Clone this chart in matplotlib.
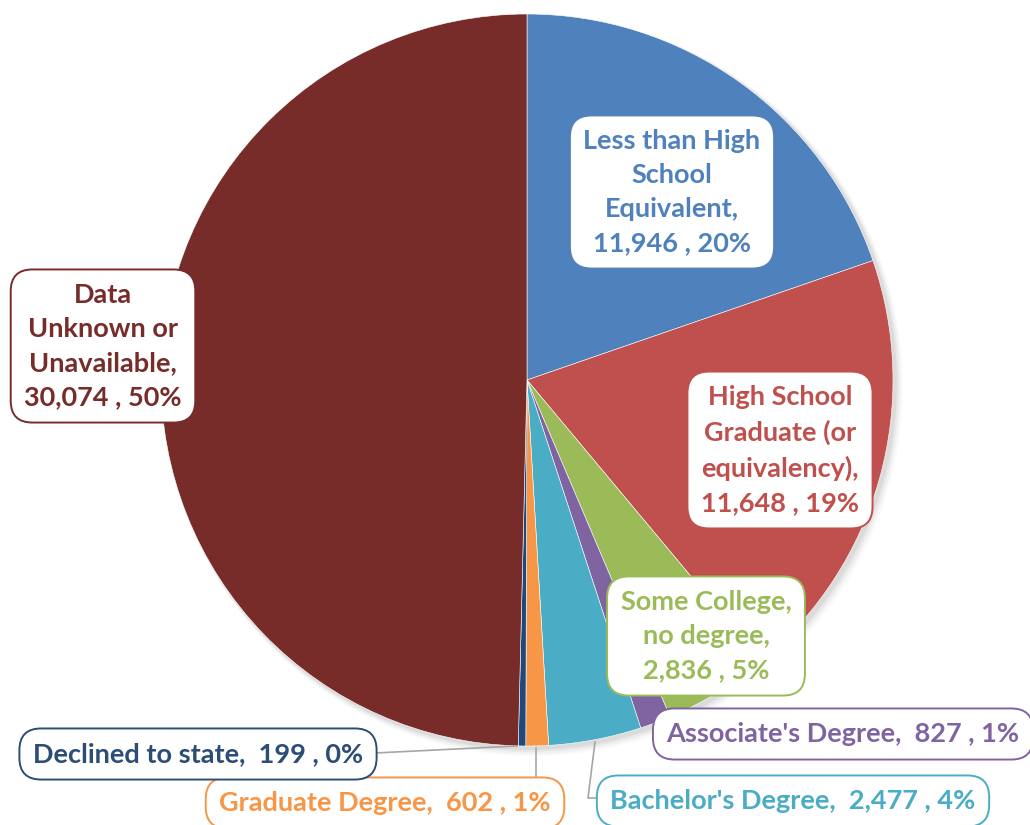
import matplotlib.pyplot as plt
from matplotlib.patches import Circle

plt.rcParams['font.family'] = ['Lato', 'DejaVu Sans']

# Education level breakdown
categories = [
    'Less than High\nSchool\nEquivalent,',
    'High School\nGraduate (or\nequivalency),',
    'Some College,\nno degree,',
    "Associate's Degree,",
    "Bachelor's Degree,",
    'Graduate Degree,',
    'Declined to state,',
    'Data\nUnknown or\nUnavailable,',
]
counts = [11946, 11648, 2836, 827, 2477, 602, 199, 30074]
colors = ['#4F81BD', '#C0504D', '#9BBB59', '#8064A2',
          '#4BACC6', '#F79646', '#1F497D', '#772C2A']
text_colors = ['#4F81BD', '#C0504D', '#9BBB59', '#8064A2',
               '#4BACC6', '#F79646', '#2C4D75', '#772C2A']
# label box centres in figure pixels (x, y from top) and whether number wraps
label_pos = [(672, 192), (780, 450), (706, 636), (843, 734),
             (793, 801), (385, 803), (198, 754), (103, 346)]
wrap_number = [True, True, True, False, False, False, False, True]

W, H = 1030, 825
fig = plt.figure(figsize=(W / 100, H / 100), dpi=100)
ax = fig.add_axes([0, 0, 1, 1])

cx, cy, r = 527, H - 380, 366

# soft drop shadow under the pie
for i, a in enumerate([0.05, 0.04, 0.03, 0.02]):
    ax.add_patch(Circle((cx + 3 + i, cy - 3 - i), r + 1 + i, color='black',
                        alpha=a, lw=0, zorder=0))

ax.pie(counts, colors=colors, startangle=90, counterclock=False,
       center=(cx, cy), radius=r, frame=True,
       wedgeprops=dict(edgecolor='white', linewidth=0.4))
ax.set_xlim(0, W)
ax.set_ylim(0, H)
ax.set_aspect('equal')
ax.axis('off')

total = sum(counts)
for name, n, tc, (px, py), wrap in zip(categories, counts, text_colors,
                                       label_pos, wrap_number):
    pct = round(100 * n / total)
    sep = '\n' if wrap else '  '
    label = f'{name}{sep}{n:,} , {pct}%'
    ax.text(px, H - py, label, ha='center', va='center',
            multialignment='center', fontsize=19.5, fontweight='bold',
            color=tc, linespacing=1.5, zorder=5,
            bbox=dict(boxstyle='round,pad=0.5,rounding_size=0.8',
                      fc='white', ec=tc, lw=1.4))

# leader lines
lc = '#A6A6A6'
ax.plot([375, 517], [H - 753, H - 746], color=lc, lw=1.2, zorder=4)
ax.plot([536, 536], [H - 779, H - 748], color=lc, lw=1.2, zorder=4)
ax.plot([600, 588, 595], [H - 798, H - 798, H - 742], color=lc, lw=1.2,
        zorder=4)

fig.savefig('out.png', dpi=100)
